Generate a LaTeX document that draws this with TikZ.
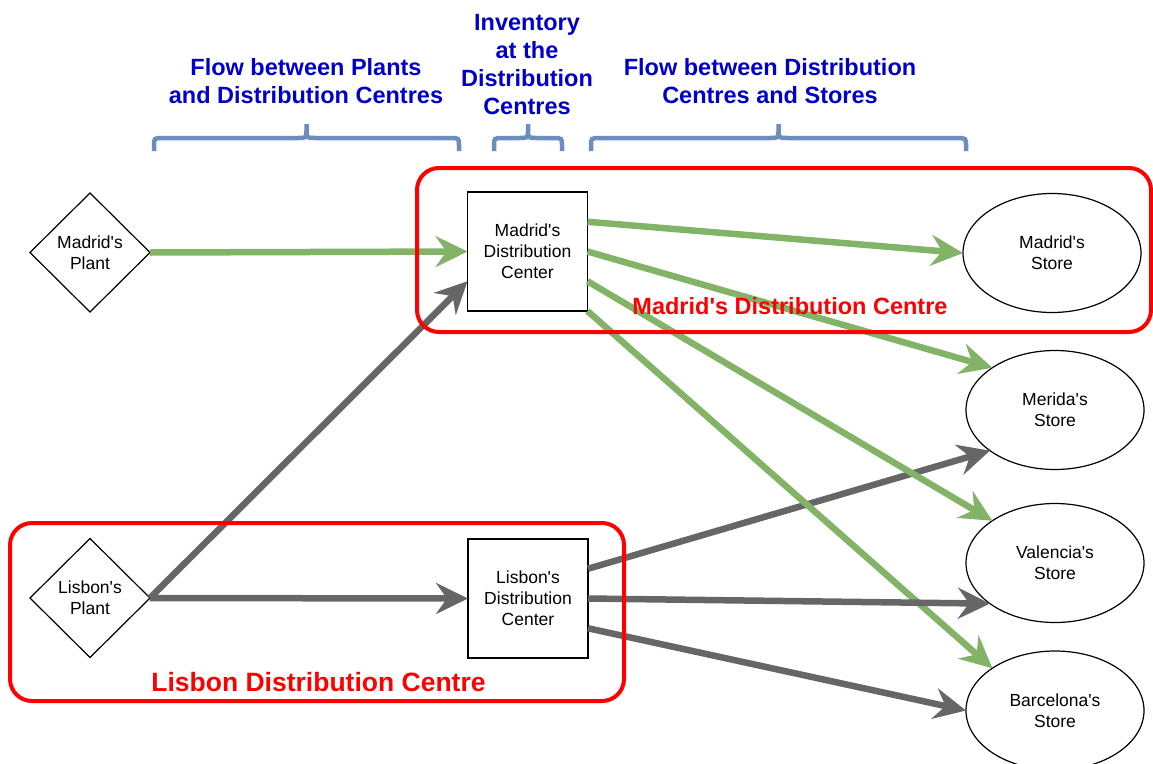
\documentclass[tikz,border=0pt]{standalone}
\usepackage{fontspec}
\newfontfamily\lib{Liberation Sans}
\usetikzlibrary{shapes.geometric,arrows.meta,calc}
\definecolor{grn}{HTML}{82B366}
\definecolor{gry}{HTML}{666666}
\definecolor{bracec}{HTML}{6C8EBF}
\definecolor{navy}{HTML}{0000CC}
\definecolor{rd}{HTML}{FF0000}
\begin{document}
\begin{tikzpicture}[x=1pt,y=-1pt,
  lbl/.style={font=\lib\fontsize{17.5}{21}\selectfont, align=center, text=black, outer sep=0pt},
  plant/.style={lbl, draw, diamond, line width=1.2pt, minimum width=120pt, minimum height=119pt, inner sep=0pt, aspect=1, fill=white},
  dcbox/.style={lbl, draw, rectangle, line width=1.2pt, minimum width=120pt, minimum height=119pt, inner sep=0pt, fill=white},
  store/.style={lbl, draw, ellipse, line width=1.2pt, minimum width=178pt, minimum height=119pt, inner sep=0pt, fill=white},
  title/.style={font=\lib\bfseries\fontsize{23.5}{28}\selectfont, text=navy, align=center},
  zonelbl/.style={font=\lib\bfseries\fontsize{23.5}{28}\selectfont, text=rd},
  zone/.style={draw=rd, line width=4pt, rounded corners=22pt},
  bracestyle/.style={draw=bracec, line width=4.5pt},
  tipstyle/.style={-{Stealth[length=32pt,width=31pt,inset=11pt]}},
  garrow/.style={draw=grn, line width=6.5pt, tipstyle},
  karrow/.style={draw=gry, line width=6.5pt, tipstyle}
]
\useasboundingbox (0,0) rectangle (1153,763);

% nodes
\node[plant] (mp) at (90,252.5) {Madrid's\\Plant};
\node[plant] (lp) at (90,598) {Lisbon's\\Plant};
\node[dcbox] (mdc) at (527.5,251.5) {Madrid's\\Distribution\\Center};
\node[dcbox] (ldc) at (528,598.5) {Lisbon's\\Distribution\\Center};
\node[store] (ms) at (1052,253) {Madrid's\\Store};
\node[store] (mer) at (1055,410) {Merida's\\Store};
\node[store] (val) at (1055,563) {Valencia's\\Store};
\node[store] (bar) at (1055,710.5) {Barcelona's\\Store};

% ports
\coordinate (m1) at ($(mdc.north east)!0.25!(mdc.south east)$);
\coordinate (m3) at ($(mdc.north east)!0.75!(mdc.south east)$);
\coordinate (mw3) at ($(mdc.north west)!0.75!(mdc.south west)$);
\coordinate (l1) at ($(ldc.north east)!0.25!(ldc.south east)$);
\coordinate (l3) at ($(ldc.north east)!0.75!(ldc.south east)$);

% arrows
\draw[karrow] (lp.east) -- (ldc.west);
\draw[karrow] (lp.east) -- (mw3);
\draw[karrow] (l1) -- (mer.212);
\draw[garrow] (mp.east) -- (mdc.west);
\draw[garrow] (m1) -- (ms.west);
\draw[garrow] (mdc.east) -- (mer.146);
\draw[garrow] (m3) -- (val.146);
\draw[garrow] (mdc.south east) -- (bar.146);
\draw[karrow] (ldc.east) -- (val.212);
\draw[karrow] (l3) -- (bar.west);

% zones
\draw[zone] (417,168) rectangle (1151,332);
\draw[zone] (10,523) rectangle (624,701);
\node[zonelbl] (mzl) at (790,306) {Madrid's Distribution Centre};
\node[zonelbl, font=\lib\bfseries\fontsize{26.5}{30}\selectfont] (lzl) at (318.5,682.5) {Lisbon Distribution Centre};

% titles
\node[title] (t1) at (306,81) {Flow between Plants\\and Distribution Centres};
\node[title, font=\lib\bfseries\fontsize{23.5}{27.7}\selectfont] (t2) at (527,64.5) {Inventory\\at the\\Distribution\\Centres};
\node[title] (t3) at (770,81) {Flow between Distribution\\Centres and Stores};

% braces
\draw[bracestyle] (154,151) -- (154,146) .. controls (154,138) .. (163,138) -- (297.5,138) .. controls (306.5,138) .. (306.5,130) -- (306.5,124) -- (306.5,130) .. controls (306.5,138) .. (315.5,138) -- (450,138) .. controls (459,138) .. (459,146) -- (459,151);
\draw[bracestyle] (494,151) -- (494,146) .. controls (494,138) .. (503,138) -- (519,138) .. controls (528,138) .. (528,130) -- (528,124) -- (528,130) .. controls (528,138) .. (537,138) -- (553,138) .. controls (562,138) .. (562,146) -- (562,151);
\draw[bracestyle] (591,151) -- (591,146) .. controls (591,138) .. (600,138) -- (769.5,138) .. controls (778.5,138) .. (778.5,130) -- (778.5,124) -- (778.5,130) .. controls (778.5,138) .. (787.5,138) -- (957,138) .. controls (966,138) .. (966,146) -- (966,151);
\end{tikzpicture}
\end{document}
